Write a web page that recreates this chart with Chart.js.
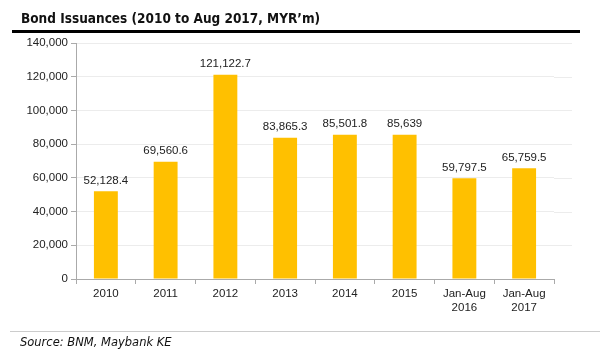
<!DOCTYPE html>
<html>
<head>
<meta charset="utf-8">
<script src="https://cdn.jsdelivr.net/npm/chart.js@4"></script>
<style>
  html, body { margin: 0; padding: 0; background: #fff; }
  #wrap { position: relative; width: 600px; height: 360px; overflow: hidden; }
  #title { position: absolute; left: 21px; top: 10px; font-family: "DejaVu Sans Condensed", "DejaVu Sans", sans-serif; font-stretch: condensed; font-weight: bold; font-size: 13.5px; color: #111; white-space: nowrap; }
  #rule { position: absolute; left: 12px; top: 30px; width: 568px; height: 3px; background: #000; }
  #foot { position: absolute; left: 10px; top: 331px; width: 590px; height: 1px; background: #ccc; }
  #source { position: absolute; left: 20px; top: 335px; font-family: "DejaVu Sans", sans-serif; font-style: italic; font-size: 11.5px; color: #111; white-space: nowrap; }
  canvas { position: absolute; left: 0; top: 0; }
</style>
</head>
<body>
<div id="wrap">
  <canvas id="c" width="600" height="360"></canvas>
  <div id="title">Bond Issuances (2010 to Aug 2017, MYR’m)</div>
  <div id="rule"></div>
  <div id="foot"></div>
  <div id="source">Source: BNM, Maybank KE</div>
</div>
<script>
const categories = ["2010", "2011", "2012", "2013", "2014", "2015", ["Jan-Aug", "2016"], ["Jan-Aug", "2017"]];
const issuances = [52128.4, 69560.6, 121122.7, 83865.3, 85501.8, 85639, 59797.5, 65759.5];
const valueLabels = ["52,128.4", "69,560.6", "121,122.7", "83,865.3", "85,501.8", "85,639", "59,797.5", "65,759.5"];
const yTicks = [0, 20000, 40000, 60000, 80000, 100000, 120000, 140000];

const FONT = '"Liberation Sans", Arial, sans-serif';

const labelPlugin = {
  id: 'valueLabels',
  afterDatasetsDraw(chart) {
    const ctx = chart.ctx;
    const meta = chart.getDatasetMeta(0);
    ctx.save();
    ctx.font = '11.5px ' + FONT;
    ctx.fillStyle = '#222';
    ctx.textAlign = 'center';
    ctx.textBaseline = 'bottom';
    meta.data.forEach((bar, i) => {
      ctx.fillText(valueLabels[i], bar.x, bar.y - 5);
    });
    ctx.restore();
  }
};

const gridExtend = {
  id: 'gridExtend',
  beforeDatasetsDraw(chart) {
    const ctx = chart.ctx;
    const y = chart.scales.y;
    const area = chart.chartArea;
    ctx.save();
    ctx.strokeStyle = '#ececec';
    ctx.lineWidth = 1;
    y.ticks.forEach(t => {
      if (t.value === 0) return;
      const py = Math.round(y.getPixelForValue(t.value)) + 0.5;
      ctx.beginPath();
      ctx.moveTo(area.right, py);
      ctx.lineTo(572, py);
      ctx.stroke();
    });
    ctx.restore();
  }
};

new Chart(document.getElementById('c'), {
  type: 'bar',
  data: {
    labels: categories,
    datasets: [{
      data: issuances,
      backgroundColor: '#FFC000',
      borderWidth: 0,
      barPercentage: 0.8,
      categoryPercentage: 0.5
    }]
  },
  options: {
    responsive: false,
    animation: false,
    devicePixelRatio: 1,
    layout: { padding: { left: 0, right: 46, top: 43, bottom: 41 } },
    plugins: { legend: { display: false }, tooltip: { enabled: false }, title: { display: false } },
    scales: {
      x: {
        afterFit(s) { s.height = 40; },
        grid: { display: true, drawOnChartArea: false, drawTicks: true, tickLength: 5, color: '#aaa', offset: true },
        border: { display: true, color: '#aaa', width: 1 },
        ticks: { color: '#222', font: { family: FONT, size: 11.5 }, padding: 3, maxRotation: 0, autoSkip: false }
      },
      y: {
        min: 0, max: 140000,
        afterFit(s) { s.width = 76; },
        afterBuildTicks(s) { s.ticks = yTicks.map(v => ({ value: v })); },
        grid: { color: '#ececec', tickLength: 5, tickColor: '#aaa', drawTicks: true },
        border: { display: true, color: '#aaa', width: 1 },
        ticks: {
          color: '#222', font: { family: FONT, size: 11.5 }, padding: 3,
          callback: v => v.toLocaleString('en-US')
        }
      }
    }
  },
  plugins: [labelPlugin, gridExtend]
});
</script>
</body>
</html>
